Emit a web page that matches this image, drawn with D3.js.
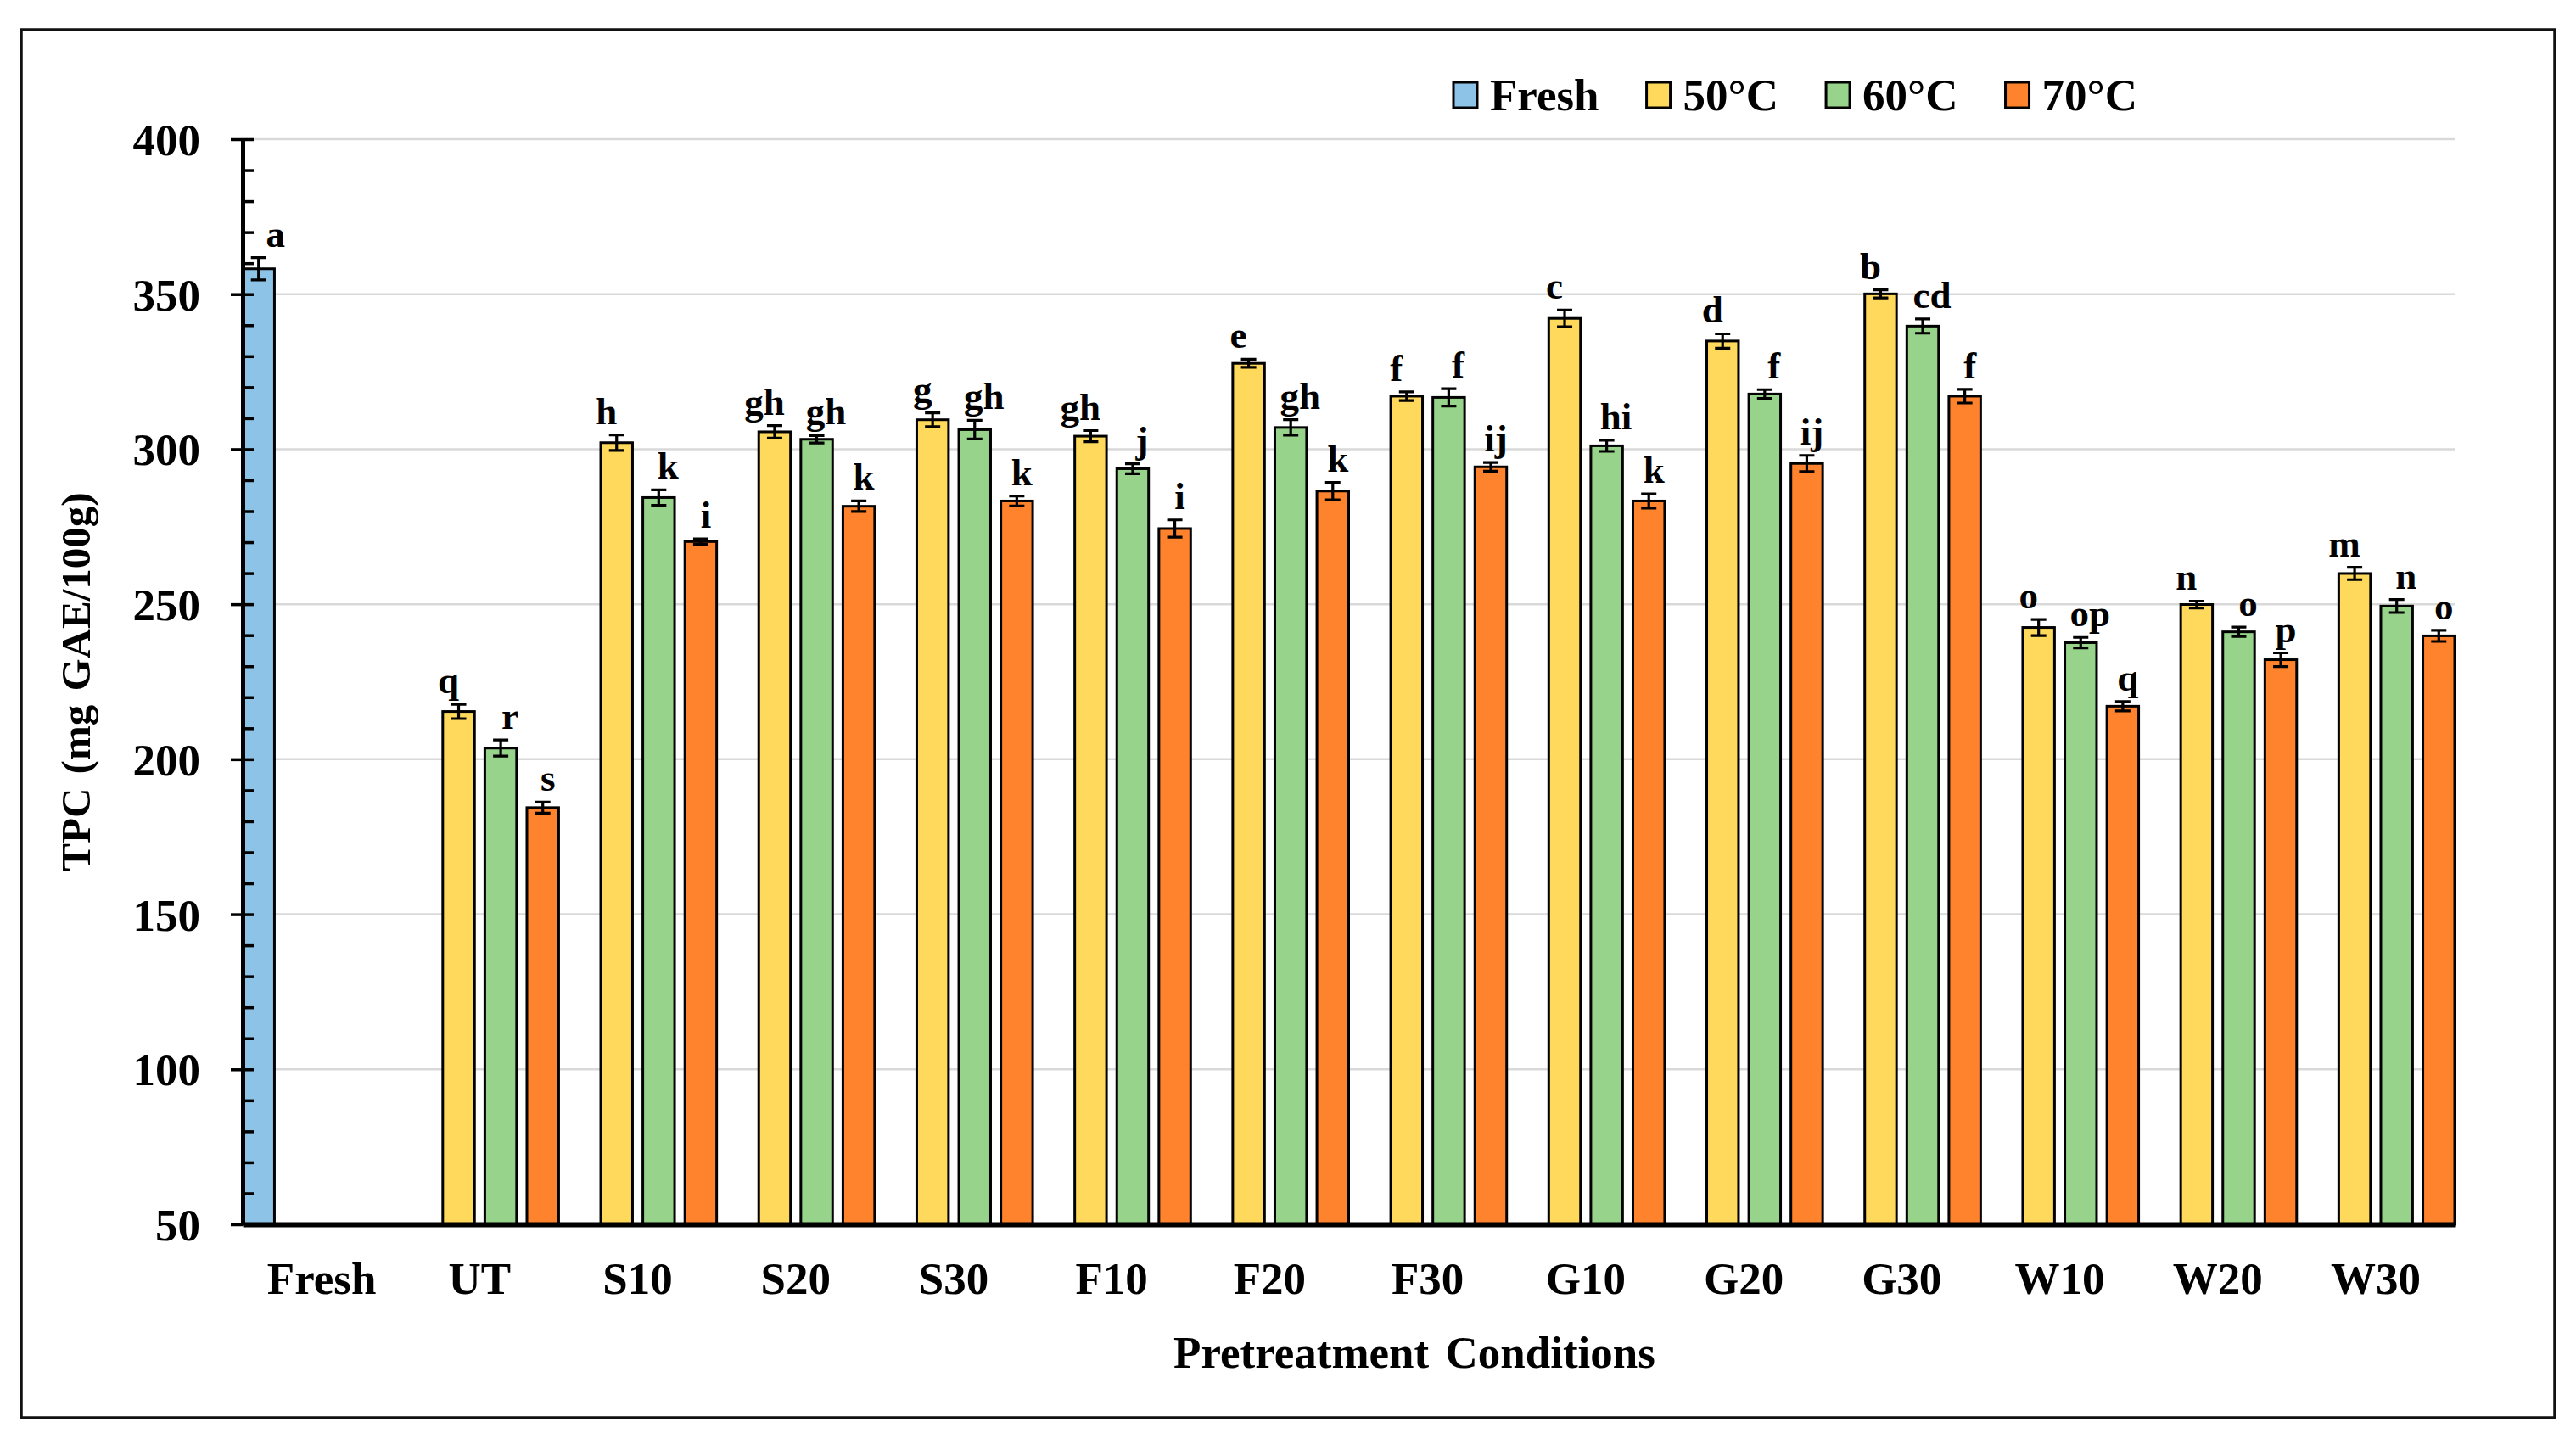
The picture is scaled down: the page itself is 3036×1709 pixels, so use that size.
<!DOCTYPE html>
<html>
<head>
<meta charset="utf-8">
<script src="https://cdn.jsdelivr.net/npm/d3@7"></script>
<style>
  body { margin: 0; background: #fff; }
  text { font-family: "Liberation Serif", "Times New Roman", serif; font-weight: bold; fill: #000; }
</style>
</head>
<body>
<svg></svg>
<script>
// ─── DATA ─────────────────────────────────────────────────────────────────────

const categories = ["Fresh", "UT", "S10", "S20", "S30", "F10", "F20", "F30",
  "G10", "G20", "G30", "W10", "W20", "W30"];
const series = ["Fresh", "50°C", "60°C", "70°C"];

// fresh sample (only bar in the "Fresh" group)
const freshValue = [358.2];
const freshErr = [3.6];
const freshLetter = ["a"];

// dried samples, one entry per treatment (UT ... W30)
const treatments = categories.slice(1);
const tpc50 = [215.4, 302.1, 305.6, 309.5, 304.2, 327.7, 317.1, 342.2, 334.9, 350.1, 242.5, 249.9, 259.9];
const tpc60 = [203.6, 284.4, 303.2, 306.3, 293.7, 307.0, 316.7, 301.1, 317.8, 339.7, 237.6, 241.1, 249.4];
const tpc70 = [184.4, 270.2, 281.6, 283.3, 274.4, 286.5, 294.3, 283.3, 295.4, 317.1, 217.1, 232.1, 239.8];
const err50 = [2.3, 2.5, 2.0, 2.2, 1.8, 1.3, 1.4, 2.7, 2.3, 1.3, 2.6, 1.1, 2.0];
const err60 = [2.6, 2.5, 1.2, 3.0, 1.6, 2.5, 2.8, 1.8, 1.4, 2.3, 1.7, 1.5, 2.1];
const err70 = [1.8, 0.9, 1.7, 1.6, 2.8, 2.8, 1.4, 2.3, 2.6, 2.2, 1.5, 2.2, 1.8];
const letters50 = ["q", "h", "gh", "g", "gh", "e", "f", "c", "d", "b", "o", "n", "m"];
const letters60 = ["r", "k", "gh", "gh", "j", "gh", "f", "hi", "f", "cd", "op", "o", "n"];
const letters70 = ["s", "i", "k", "k", "i", "k", "ij", "k", "ij", "f", "q", "p", "o"];

const yTicks = [50, 100, 150, 200, 250, 300, 350, 400];

// ─── DIMENSIONS & SCALES ──────────────────────────────────────────────────────

const width = 3036,
  height = 1709,
  plot = { left: 286, right: 2893, top: 164, bottom: 1443 };

const colors = {
  "Fresh": "#8DC3E7",
  "50°C": "#FFD95C",
  "60°C": "#98D38B",
  "70°C": "#FF832D",
};

// letters sit a little off-centre, as in the original figure
const letterShift = { "Fresh": 20, "50°C": -12, "60°C": 11, "70°C": 6 };

const svg = d3.select("svg").attr("width", width).attr("height", height);

svg.append("rect").attr("width", width).attr("height", height).attr("fill", "#fff");

// outer frame
svg
  .append("rect")
  .attr("x", 25)
  .attr("y", 35)
  .attr("width", 2986)
  .attr("height", 1636)
  .attr("fill", "none")
  .attr("stroke", "#111")
  .attr("stroke-width", 3.5);

const x0 = d3.scaleBand().domain(categories).range([plot.left, plot.right]).padding(0);

const x1 = d3
  .scaleBand()
  .domain(series)
  .range([0, x0.bandwidth()])
  .paddingInner(0.245)
  .paddingOuter(0);

const y = d3.scaleLinear().domain([50, 400]).range([plot.bottom, plot.top]);

// ─── BUILD ROWS ───────────────────────────────────────────────────────────────

const rows = [
  { cat: "Fresh", key: "Fresh", value: freshValue[0], err: freshErr[0], letter: freshLetter[0] },
];
treatments.forEach((t, i) => {
  rows.push({ cat: t, key: "50°C", value: tpc50[i], err: err50[i], letter: letters50[i] });
  rows.push({ cat: t, key: "60°C", value: tpc60[i], err: err60[i], letter: letters60[i] });
  rows.push({ cat: t, key: "70°C", value: tpc70[i], err: err70[i], letter: letters70[i] });
});

const cx = (d) => x0(d.cat) + x1(d.key) + x1.bandwidth() / 2;

// ─── GRIDLINES ────────────────────────────────────────────────────────────────

svg
  .append("g")
  .selectAll("line")
  .data(yTicks.filter((t) => t > 50))
  .join("line")
  .attr("x1", plot.left)
  .attr("x2", plot.right)
  .attr("y1", (d) => y(d))
  .attr("y2", (d) => y(d))
  .attr("stroke", "#d9d9d9")
  .attr("stroke-width", 2.5);

// ─── BARS ─────────────────────────────────────────────────────────────────────

svg
  .append("g")
  .selectAll("rect")
  .data(rows)
  .join("rect")
  .attr("x", (d) => x0(d.cat) + x1(d.key))
  .attr("width", x1.bandwidth())
  .attr("y", (d) => y(d.value))
  .attr("height", (d) => y(50) - y(d.value))
  .attr("fill", (d) => colors[d.key])
  .attr("stroke", "#000")
  .attr("stroke-width", 3);

// ─── ERROR BARS ───────────────────────────────────────────────────────────────

const capW = 9;
const eb = svg.append("g").attr("stroke", "#000").attr("stroke-width", 3.2);

eb.selectAll("path")
  .data(rows)
  .join("path")
  .attr("fill", "none")
  .attr("d", (d) => {
    const x = cx(d),
      y0 = y(d.value - d.err),
      y1 = y(d.value + d.err);
    return `M${x - capW},${y1}H${x + capW}M${x},${y1}V${y0}M${x - capW},${y0}H${x + capW}`;
  });

// ─── SIGNIFICANCE LETTERS ─────────────────────────────────────────────────────

svg
  .append("g")
  .selectAll("text")
  .data(rows)
  .join("text")
  .attr("x", (d) => cx(d) + letterShift[d.key])
  .attr("y", (d) => y(d.value + d.err) - 13)
  .attr("text-anchor", "middle")
  .attr("font-size", 45)
  .text((d) => d.letter);

// ─── AXES ─────────────────────────────────────────────────────────────────────

// minor ticks inside the plot, every 10
svg
  .append("g")
  .attr("transform", `translate(${plot.left},0)`)
  .call(d3.axisRight(y).tickValues(d3.range(60, 401, 10)).tickSize(13).tickSizeOuter(0).tickFormat(""))
  .call((g) => g.select(".domain").remove())
  .call((g) => g.selectAll("line").attr("stroke", "#000").attr("stroke-width", 3.5));

const yAxis = svg
  .append("g")
  .attr("transform", `translate(${plot.left},0)`)
  .call(d3.axisLeft(y).tickValues(yTicks).tickSize(14).tickSizeOuter(0).tickPadding(36));

yAxis.select(".domain").attr("stroke", "#000").attr("stroke-width", 5);
yAxis.selectAll("line").attr("stroke", "#000").attr("stroke-width", 3.5);
yAxis
  .selectAll("text")
  .attr("font-family", "Liberation Serif")
  .attr("font-weight", "bold")
  .attr("font-size", 53)
  .attr("dy", "0.35em");

const xAxis = svg
  .append("g")
  .attr("transform", `translate(0,${plot.bottom})`)
  .call(d3.axisBottom(x0).tickSize(0).tickSizeOuter(0).tickPadding(44));

xAxis.select(".domain").attr("stroke", "#000").attr("stroke-width", 6);
xAxis
  .selectAll("text")
  .attr("font-family", "Liberation Serif")
  .attr("font-weight", "bold")
  .attr("font-size", 53);

// ─── AXIS TITLES ──────────────────────────────────────────────────────────────

svg
  .append("text")
  .attr("x", 1667)
  .attr("y", 1612)
  .attr("text-anchor", "middle")
  .attr("font-size", 53)
  .attr("word-spacing", 6)
  .text("Pretreatment Conditions");

svg
  .append("text")
  .attr("transform", `translate(106,${(plot.top + plot.bottom) / 2}) rotate(-90)`)
  .attr("text-anchor", "middle")
  .attr("font-size", 49)
  .attr("word-spacing", 4)
  .text("TPC (mg GAE/100g)");

// ─── LEGEND ───────────────────────────────────────────────────────────────────

const legend = svg.append("g").attr("transform", "translate(1713,97)");
let lx = 0;
series.forEach((s) => {
  const item = legend.append("g").attr("transform", `translate(${lx},0)`);
  item
    .append("rect")
    .attr("width", 28)
    .attr("height", 30)
    .attr("fill", colors[s])
    .attr("stroke", "#000")
    .attr("stroke-width", 3);
  const t = item.append("text").attr("x", 43).attr("y", 33).attr("font-size", 53).text(s);
  lx += 43 + t.node().getComputedTextLength() + 56;
});
</script>
</body>
</html>
